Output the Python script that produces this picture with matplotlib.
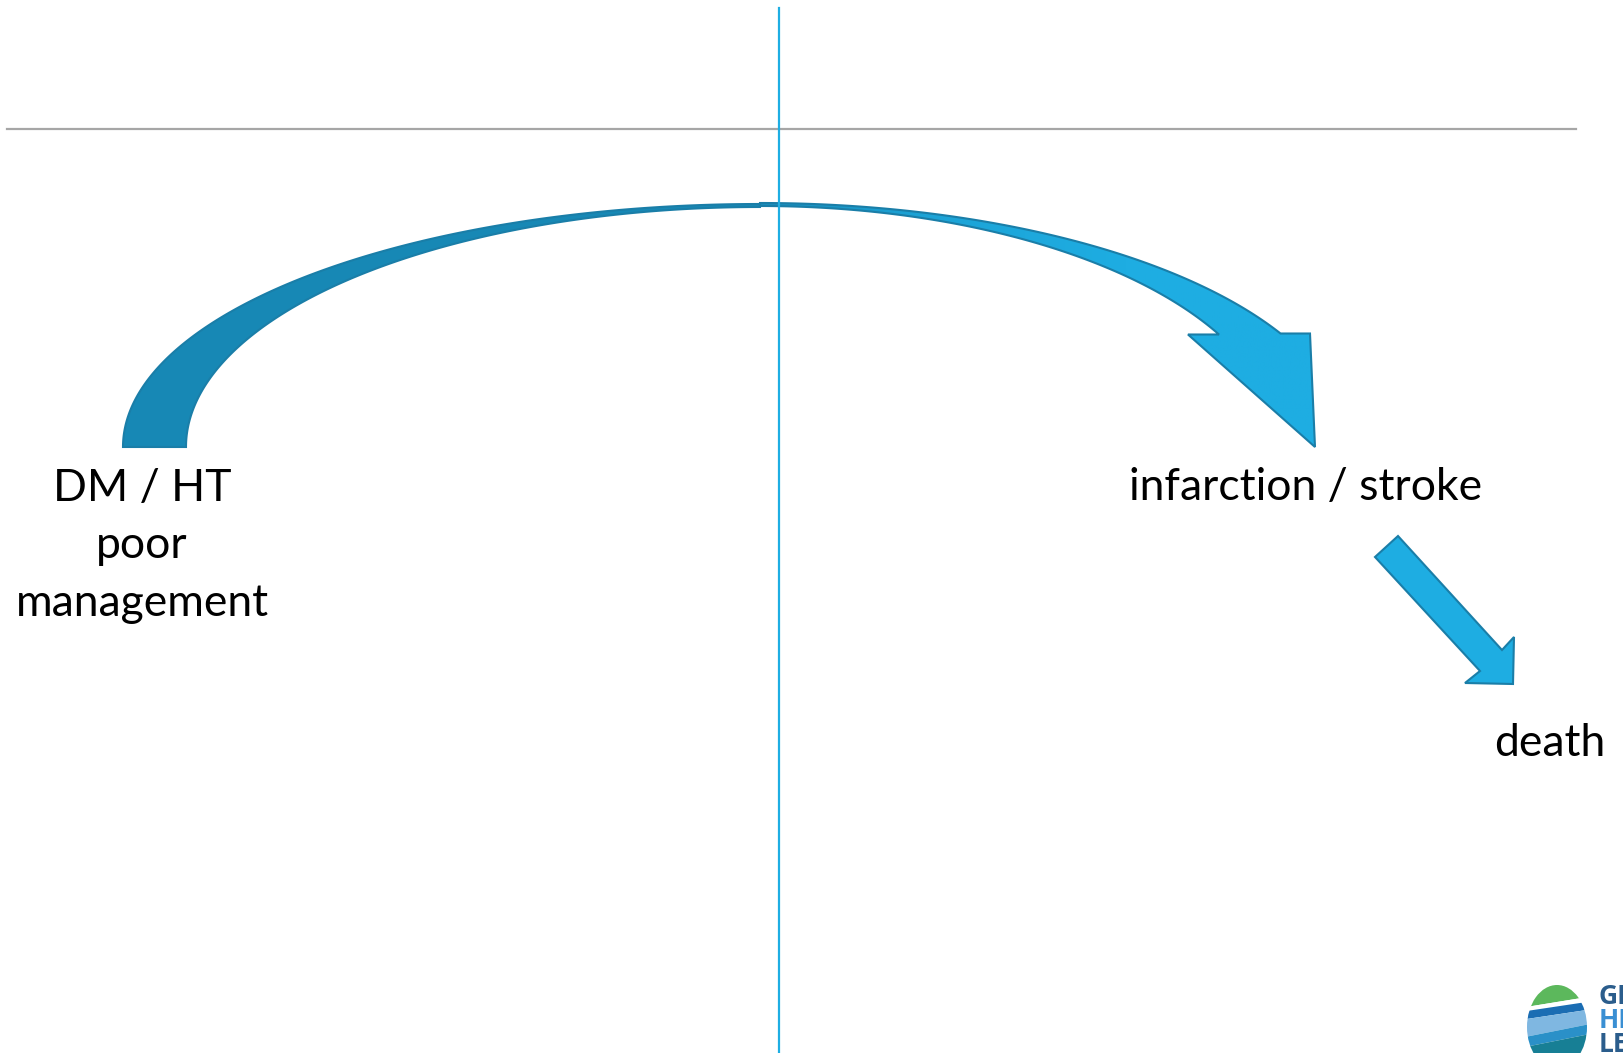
import numpy as np
import matplotlib
matplotlib.use("Agg")
import matplotlib.pyplot as plt
from matplotlib.patches import Polygon, Ellipse
from matplotlib.colors import LinearSegmentedColormap

# ---- content ----
labels = ["DM / HT\npoor\nmanagement", "infarction / stroke", "death"]
label_xy = [(142, 546), (1306, 487), (1550, 744)]
logo_letters = ["GL", "HE", "LE"]

# ---- geometry (pixel coordinates of the 1624x1053 canvas) ----
hline_y = 128.5
hline_x = [7, 1576]
vline_x = 779
arc_center = (760, 447)
back_outer = (637, 243)   # semi-axes of the back (left) part, outer edge
back_inner = (574, 240)
front_outer = (588, 244)
front_inner = (519, 241)
head_pts = [(1310, 333.5), (1315, 447), (1188, 334.5)]
straight_arrow = [(1375, 557), (1398, 536), (1502, 650), (1514, 637),
                  (1513, 684), (1465, 683), (1480, 671)]

W, H = 1624, 1053
fig = plt.figure(figsize=(W / 100, H / 100), dpi=100)
ax = fig.add_axes([0, 0, 1, 1])
ax.set_xlim(0, W)
ax.set_ylim(H, 0)
ax.axis("off")

# lines
ax.plot(hline_x, [hline_y, hline_y], color="#a6a6a6", lw=1.6, zorder=1)
ax.plot([vline_x, vline_x], [8, H], color="#1eaee3", lw=1.6, zorder=5)

cx, cy = arc_center
edge = "#1a7ea8"

def ell(a, b, t):
    return np.column_stack([cx + a * np.cos(t), cy - b * np.sin(t)])

# back part (left)
t = np.linspace(np.pi, np.pi / 2, 200)
outer = ell(*back_outer, t)
inner = ell(*back_inner, t[::-1])
back = Polygon(np.vstack([outer, inner]), closed=True, facecolor="#1788b5",
               edgecolor=edge, lw=1.5, zorder=3)
ax.add_patch(back)

# front part (right) with arrow head
t_end_o = np.arcsin((cy - 333.5) / front_outer[1])
t_end_i = np.arcsin((cy - 334.5) / front_inner[1])
to = np.linspace(np.pi / 2, t_end_o, 200)
ti = np.linspace(t_end_i, np.pi / 2, 200)
pts = np.vstack([ell(*front_outer, to), head_pts, ell(*front_inner, ti)])
front = Polygon(pts, closed=True, facecolor="none", edgecolor=edge, lw=1.5, zorder=4)
ax.add_patch(front)
cmap = LinearSegmentedColormap.from_list("g", ["#1788b5", "#1ca3d6", "#1eade2", "#1eade2"])
grad = np.linspace(0, 1, 256).reshape(1, -1)
im = ax.imshow(grad, extent=[cx - 40, 1330, 460, 190], cmap=cmap, aspect="auto", zorder=3.5)
fill_patch = Polygon(pts, closed=True, facecolor="none", edgecolor="none")
ax.add_patch(fill_patch)
im.set_clip_path(fill_patch)

# straight arrow
ax.add_patch(Polygon(straight_arrow, closed=True, facecolor="#1eade2",
                     edgecolor=edge, lw=1.5, zorder=4))

# labels
font = ["Lato", "DejaVu Sans"]
for (txt, (x, y)) in zip(labels, label_xy):
    ax.text(x, y, txt, ha="center", va="center", fontsize=32, family=font,
            linespacing=1.5, color="black", zorder=6)

# logo (partly cut off at bottom-right)
lc = (1557, 1027)
clip = Ellipse(lc, 60, 84, facecolor="none", edgecolor="none")
ax.add_patch(clip)
bands = [
    ([(1520, 980), (1600, 980), (1600, 995), (1520, 1008)], "#5cb85c"),
    ([(1520, 1008), (1600, 995), (1600, 1000), (1520, 1012)], "#ffffff"),
    ([(1520, 1012), (1600, 1000), (1600, 1008), (1520, 1020)], "#1b6db3"),
    ([(1520, 1020), (1600, 1008), (1600, 1022), (1520, 1038)], "#7fb7e1"),
    ([(1520, 1038), (1600, 1022), (1600, 1032), (1520, 1048)], "#2a90c8"),
    ([(1520, 1048), (1600, 1032), (1600, 1060), (1520, 1060)], "#177f95"),
]
for poly, col in bands:
    p = Polygon(poly, closed=True, facecolor=col, edgecolor="none", zorder=6)
    ax.add_patch(p)
    p.set_clip_path(clip)
for i, (s, col) in enumerate(zip(logo_letters, ["#2b5d8c", "#3a8fd3", "#2b5d8c"])):
    ax.text(1599, 997 + i * 24, s, ha="left", va="center", fontsize=19,
            fontweight="bold", family=["Open Sans", "DejaVu Sans"], color=col, zorder=6)

fig.savefig("out.png", dpi=100, facecolor="white")
